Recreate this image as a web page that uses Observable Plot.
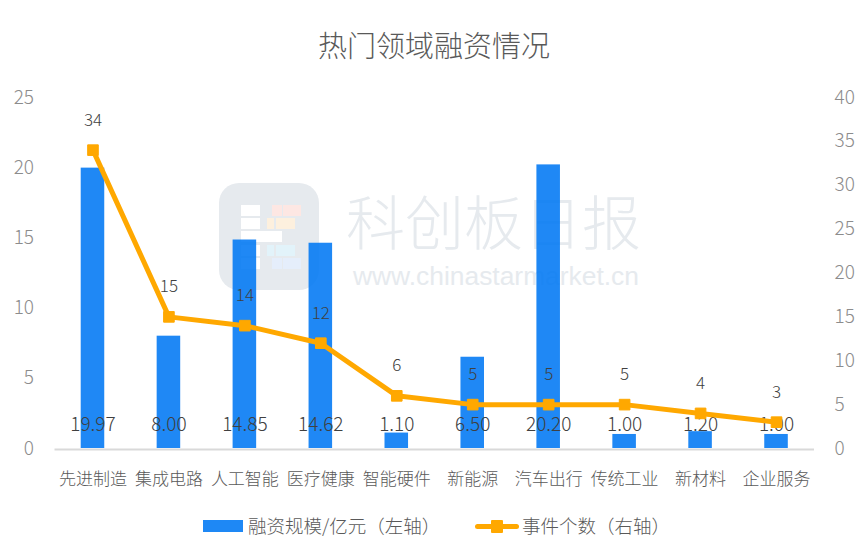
<!DOCTYPE html>
<html><head><meta charset="utf-8">
<script src="https://cdn.jsdelivr.net/npm/d3@7"></script>
<script src="https://cdn.jsdelivr.net/npm/@observablehq/plot@0.6"></script>
<style>
html,body{margin:0;padding:0;background:#fff;}
#page{position:relative;width:868px;height:558px;overflow:hidden;font-family:"Noto Sans CJK SC","Noto Sans",sans-serif;font-weight:300;}
#title{height:80px;box-sizing:border-box;padding-top:24px;text-align:center;font-size:29px;line-height:40px;color:#595959;}
#chart{position:relative;z-index:1;height:418px;}
#chart svg{display:block;}
#legend{position:relative;height:60px;font-size:18.5px;color:#595959;z-index:1;}
#legend span{position:absolute;white-space:nowrap;}
#wm{position:absolute;left:0;top:0;width:868px;height:558px;z-index:0;}
#wm div{position:absolute;}
</style></head><body>
<div id="page">
<div id="wm"></div>
<div id="title"></div>
<div id="chart"></div>
<div id="legend"></div>
</div>
<script>
const chartTitle = "热门领域融资情况";
const categories = ["先进制造","集成电路","人工智能","医疗健康","智能硬件","新能源","汽车出行","传统工业","新材料","企业服务"];
const funding = [19.97,8.00,14.85,14.62,1.10,6.50,20.20,1.00,1.20,1.00];
const events = [34,15,14,12,6,5,5,5,4,3];
const leftTicks = [0,5,10,15,20,25];
const rightTicks = [0,5,10,15,20,25,30,35,40];
const legendBar = "融资规模/亿元（左轴）";
const legendLine = "事件个数（右轴）";
const ratio = 25/40;
const blue = "#0078f4", orange = "#ffa800";
const font = '"Noto Sans CJK SC","Noto Sans",sans-serif';

document.getElementById("title").textContent = chartTitle;

const rows = categories.map((c,i)=>({c,f:funding[i],e:events[i],y2:events[i]*ratio}));

const plot = Plot.plot({
  width:868,height:418,
  marginLeft:54.5,marginRight:54,marginTop:17,marginBottom:50,
  style:{background:"transparent",fontFamily:font,fontWeight:300},
  x:{domain:categories,paddingInner:0.69,paddingOuter:0.345,align:0.5,round:false,label:null},
  y:{domain:[0,25],label:null},
  marks:[
    Plot.barY(rows,{x:"c",y:"f",fill:blue,fillOpacity:0.88}),
    Plot.ruleY([0],{stroke:"#d9d9d9",strokeWidth:2,dy:1}),
    Plot.text(rows,{x:"c",y:0,text:d=>d.f.toFixed(2),dy:-24,fill:"#404040",fontSize:19}),
    Plot.line(rows,{x:"c",y:"y2",stroke:orange,strokeWidth:5,strokeLinejoin:"round",strokeLinecap:"round"}),
    Plot.dot(rows,{x:"c",y:"y2",symbol:"square",r:6,fill:orange,stroke:orange,strokeWidth:1}),
    Plot.text(rows,{x:"c",y:"y2",text:d=>String(d.e),dy:-30,fill:"#404040",fontSize:17}),
    Plot.axisX({domain:categories,tickSize:0,tickPadding:24,fontSize:17,fill:"#595959",label:null}),
    Plot.axisY({ticks:leftTicks,anchor:"left",tickSize:0,tickPadding:21,fontSize:19,fill:"#8c8c8c",label:null}),
    Plot.axisY(rightTicks.map(d=>d*ratio),{anchor:"right",tickSize:0,tickPadding:20,fontSize:19,fill:"#8c8c8c",label:null,tickFormat:d=>String(Math.round(d/ratio))})
  ]
});
document.getElementById("chart").appendChild(plot);

// legend
const lg = document.getElementById("legend");
function add(css,txt){const s=document.createElement("span");s.style.cssText=css;if(txt)s.textContent=txt;lg.appendChild(s);}
add("left:203px;top:22px;width:40px;height:12px;background:#1e88f5;");
add("left:248px;top:14px;line-height:27px;",legendBar);
add("left:475px;top:26px;width:44px;height:5px;border-radius:3px;background:"+orange+";");
add("left:491px;top:22px;width:12px;height:13px;border-radius:1px;background:"+orange+";");
add("left:522px;top:14px;line-height:27px;",legendLine);

// watermark (decoration, sits behind the chart)
const wm = document.getElementById("wm");
function w(css,txt){const d=document.createElement("div");d.style.cssText=css;if(txt)d.textContent=txt;wm.appendChild(d);}
w("left:219px;top:183px;width:100px;height:107px;border-radius:20px;background:#e6eaee;");
for(const [x,y,ww] of [[241,205,19],[241,218,19],[241,231,41],[241,245,19],[241,258,19]])
  w(`left:${x}px;top:${y}px;width:${ww}px;height:11px;background:#fff;`);
for(const [x,y,ww,c] of [[272,205,10,"#fde7e3"],[283,205,18,"#fde7e3"],[267,218,7,"#fdf0de"],[276,218,19,"#fdf0de"],[267,245,7,"#e2f3fa"],[276,245,19,"#e2f3fa"],[272,258,10,"#e5eefb"],[283,258,18,"#e5eefb"]])
  w(`left:${x}px;top:${y}px;width:${ww}px;height:11px;background:${c};`);
w("left:346px;top:190px;font-family:'Noto Sans CJK SC',serif;font-size:59px;line-height:60px;color:#e6eaee;white-space:nowrap;","科创板日报");
w("left:353px;top:262px;font-family:'Liberation Sans',sans-serif;font-size:26.4px;line-height:28px;color:#e6eaee;white-space:nowrap;font-weight:400;","www.chinastarmarket.cn");
</script>
</body></html>
